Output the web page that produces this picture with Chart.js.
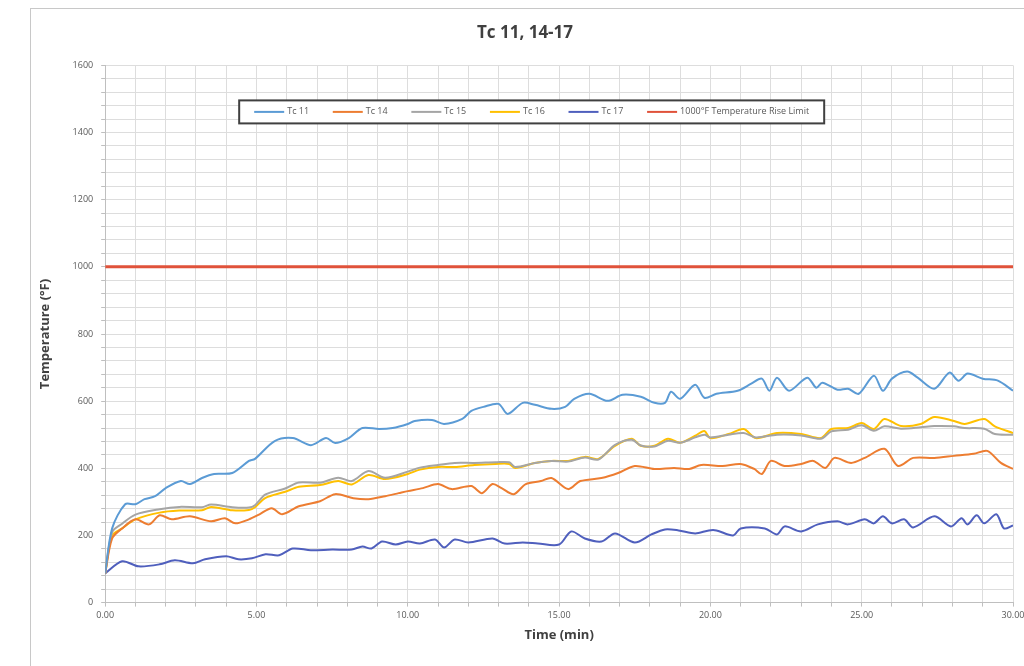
<!DOCTYPE html>
<html>
<head>
<meta charset="utf-8">
<script src="https://cdn.jsdelivr.net/npm/chart.js@4/dist/chart.umd.min.js"></script>
<style>
  html, body { margin: 0; padding: 0; background: #fff; overflow: hidden; }
  #wrap { position: absolute; left: 30px; top: 8px; width: 1000px; height: 658px;
          border-left: 1px solid #C8C8C8; border-top: 1px solid #C8C8C8; }
</style>
</head>
<body>
<div id="wrap"><canvas id="myChart" width="1000" height="658"></canvas></div>
<script>
// time (min) and temperature (°F) readings per thermocouple
var tc11Time = [0, 0.23, 0.66, 1.0, 1.3, 1.65, 2.0, 2.5, 2.8, 3.2, 3.6, 4.2, 4.75, 4.95, 5.6, 6.2, 6.8, 7.3, 7.6, 8.05,
  8.5, 9.05, 9.5, 10.0, 10.23, 10.8, 11.2, 11.8, 12.1, 12.5, 13.0, 13.3, 13.8, 14.2, 14.75, 15.2, 15.5, 16.0, 16.6, 17.1,
  17.7, 18.15, 18.5, 18.7, 19.0, 19.5, 19.8, 20.2, 20.9, 21.35, 21.7, 21.95, 22.2, 22.6, 23.2, 23.5, 23.7, 24.2, 24.55, 24.9,
  25.4, 25.7, 26.0, 26.5, 26.85, 27.4, 27.9, 28.2, 28.5, 29.0, 29.5, 30.0];
var tc11 = [87, 221, 293, 293, 308, 317, 341, 362, 353, 371, 383, 386, 422, 428, 481, 490, 469, 490, 475, 490,
  520, 517, 520, 532, 541, 544, 532, 547, 571, 583, 592, 562, 595, 589, 577, 583, 607, 622, 601, 619,
  613, 595, 595, 628, 607, 649, 610, 622, 631, 652, 667, 631, 670, 631, 670, 640, 655, 634, 637, 622,
  676, 631, 667, 688, 670, 637, 685, 661, 682, 667, 661, 631];

var tc14Time = [0, 0.23, 0.56, 1.0, 1.45, 1.8, 2.2, 2.8, 3.5, 3.96, 4.3, 4.75, 5.1, 5.5, 5.85, 6.4, 7.1, 7.6, 8.2, 8.7,
  9.25, 9.7, 10.0, 10.5, 11.0, 11.45, 12.1, 12.45, 12.8, 13.1, 13.5, 13.9, 14.4, 14.75, 15.3, 15.7, 16.4, 16.95, 17.5, 18.15,
  18.8, 19.3, 19.7, 20.4, 21.0, 21.45, 21.7, 22.0, 22.45, 23.0, 23.4, 23.8, 24.1, 24.65, 25.1, 25.75, 26.2, 26.7, 27.4, 28.05,
  28.7, 29.15, 29.6, 30.0];
var tc14 = [87, 191, 221, 248, 233, 260, 248, 257, 242, 251, 236, 248, 263, 281, 263, 287, 302, 323, 311, 308,
  317, 326, 332, 341, 353, 338, 347, 326, 353, 341, 323, 353, 362, 371, 338, 362, 371, 386, 407, 398,
  401, 398, 410, 407, 413, 398, 383, 422, 407, 413, 422, 401, 431, 416, 431, 458, 407, 431, 431, 437,
  443, 452, 416, 398];

var tc1516Time = [0, 0.23, 0.56, 1.0, 1.8, 2.45, 3.2, 3.5, 4.2, 4.75, 4.95, 5.3, 5.95, 6.4, 7.1, 7.7, 8.15, 8.7, 9.25, 10.0,
  10.4, 11.0, 11.55, 12.2, 12.9, 13.35, 13.55, 14.2, 14.75, 15.3, 15.85, 16.3, 16.85, 17.4, 17.7, 18.15, 18.6, 19.0, 19.5, 19.8,
  20.0, 20.6, 21.1, 21.5, 22.2, 23.0, 23.65, 24.0, 24.55, 25.0, 25.4, 25.75, 26.3, 26.95, 27.4, 28.05, 28.4, 29.05, 29.4, 30.0];
var tc15 = [87, 210, 235, 262, 278, 285, 284, 292, 284, 283, 290, 322, 340, 358, 357, 372, 362, 392, 372, 390,
  402, 410, 416, 416, 418, 418, 404, 416, 422, 420, 432, 426, 470, 485, 468, 465, 482, 476, 492, 500,
  492, 500, 505, 492, 500, 498, 488, 510, 515, 528, 512, 525, 518, 522, 526, 525, 520, 518, 502, 500];
var tc16 = [87, 200, 221, 248, 268, 274, 275, 285, 275, 276, 284, 312, 330, 345, 350, 362, 352, 380, 368, 383,
  396, 404, 404, 410, 413, 413, 401, 416, 422, 422, 434, 428, 467, 488, 467, 467, 488, 476, 497, 511,
  490, 502, 517, 490, 505, 502, 490, 517, 520, 535, 517, 547, 526, 532, 553, 541, 532, 547, 525, 505];

var tc17Time = [0, 0.56, 1.1, 1.8, 2.3, 2.9, 3.3, 4.0, 4.4, 4.85, 5.3, 5.75, 6.2, 6.8, 7.5, 8.15, 8.5, 8.8, 9.15, 9.6,
  10.0, 10.4, 10.9, 11.2, 11.55, 12.0, 12.8, 13.2, 13.8, 14.3, 15.0, 15.4, 15.85, 16.4, 16.85, 17.5, 18.05, 18.5, 18.95, 19.5,
  19.95, 20.2, 20.75, 21.0, 21.8, 22.2, 22.45, 23.0, 23.55, 24.2, 24.55, 25.1, 25.4, 25.7, 26.0, 26.4, 26.7, 27.4, 27.95, 28.3,
  28.5, 28.8, 29.05, 29.45, 29.7, 30.0];
var tc17 = [87, 123, 108, 114, 126, 117, 129, 138, 129, 132, 144, 141, 161, 156, 158, 158, 167, 161, 182, 173,
  182, 176, 188, 164, 188, 179, 191, 176, 179, 176, 173, 212, 191, 182, 206, 179, 203, 218, 215, 206,
  215, 215, 200, 221, 221, 203, 227, 212, 233, 242, 233, 248, 236, 257, 236, 248, 224, 257, 227, 251,
  233, 260, 236, 263, 221, 230];

var limitTime = [0, 30];
var limit = [1000, 1000];

var seriesNames = ['Tc 11', 'Tc 14', 'Tc 15', 'Tc 16', 'Tc 17', '1000\u00b0F Temperature Rise Limit'];
var seriesColors = ['#5B9BD5', '#ED7D31', '#A5A5A5', '#FFC000', '#4F5FBD', '#E0523A'];

function pts(t, v) {
  return t.map(function (x, i) { return { x: x, y: v[i] }; });
}

var seriesData = [pts(tc11Time, tc11), pts(tc14Time, tc14), pts(tc1516Time, tc15),
  pts(tc1516Time, tc16), pts(tc17Time, tc17), pts(limitTime, limit)];

var datasets = seriesData.map(function (d, i) {
  return {
    label: seriesNames[i],
    data: d,
    showLine: true,
    borderColor: seriesColors[i],
    backgroundColor: seriesColors[i],
    borderWidth: i === 5 ? 3 : 2,
    pointRadius: 0,
    tension: 0.3
  };
});

var FONT = '"Open Sans", "DejaVu Sans", sans-serif';

// legend drawn inside the plot, boxed like the spreadsheet original
var boxedLegend = {
  id: 'boxedLegend',
  afterDatasetsDraw: function (chart) {
    var ctx = chart.ctx, a = chart.chartArea;
    var left = a.left + 134, top = a.top + 35, w = 585, h = 23;
    ctx.save();
    ctx.fillStyle = '#fff';
    ctx.fillRect(left, top, w, h);
    ctx.strokeStyle = '#404040';
    ctx.lineWidth = 2;
    ctx.strokeRect(left, top, w, h);
    ctx.font = '9px ' + FONT;
    ctx.textBaseline = 'middle';
    var widths = chart.data.datasets.map(function (ds) { return 33 + ctx.measureText(ds.label).width; });
    var total = widths.reduce(function (s, x) { return s + x; }, 0);
    var gap = (w - 30 - total) / (widths.length - 1);
    var x = left + 15, cy = top + h / 2;
    chart.data.datasets.forEach(function (ds, i) {
      ctx.strokeStyle = ds.borderColor;
      ctx.lineWidth = 2;
      ctx.beginPath();
      ctx.moveTo(x, cy);
      ctx.lineTo(x + 30, cy);
      ctx.stroke();
      ctx.fillStyle = '#595959';
      ctx.fillText(ds.label, x + 33, cy);
      x += widths[i] + gap;
    });
    ctx.restore();
  }
};

var ctx = document.getElementById('myChart').getContext('2d');
var chart = new Chart(ctx, {
  type: 'scatter',
  data: { datasets: datasets },
  plugins: [boxedLegend],
  options: {
    responsive: false,
    animation: false,
    devicePixelRatio: 1,
    layout: { padding: { left: 6, right: 18, top: 14, bottom: 24 } },
    plugins: {
      legend: { display: false },
      tooltip: { enabled: false },
      title: {
        display: true,
        text: 'Tc 11, 14-17',
        color: '#404040',
        font: { family: FONT, size: 17, weight: 'bold' },
        padding: { top: 0, bottom: 22 }
      }
    },
    scales: {
      x: {
        type: 'linear',
        min: 0,
        max: 30,
        ticks: {
          stepSize: 1,
          autoSkip: false,
          maxRotation: 0,
          color: '#595959',
          font: { family: FONT, size: 9 },
          callback: function (v) { return v % 5 === 0 ? v.toFixed(2) : ''; }
        },
        grid: { color: '#DDDDDD', tickLength: 4, tickColor: '#BFBFBF' },
        border: { color: '#BFBFBF' },
        title: {
          display: true,
          text: 'Time (min)',
          color: '#404040',
          font: { family: FONT, size: 13, weight: 'bold' },
          padding: { top: 4, bottom: 0 }
        }
      },
      y: {
        min: 0,
        max: 1600,
        ticks: {
          stepSize: 40,
          autoSkip: false,
          color: '#595959',
          font: { family: FONT, size: 9 },
          padding: 8,
          callback: function (v) { return v % 200 === 0 ? String(v) : ''; }
        },
        grid: { color: '#DDDDDD', tickLength: 4, tickColor: '#BFBFBF' },
        border: { color: '#BFBFBF' },
        title: {
          display: true,
          text: 'Temperature (\u00b0F)',
          color: '#404040',
          font: { family: FONT, size: 13, weight: 'bold' },
          padding: { top: 0, bottom: 12 }
        }
      }
    }
  }
});
</script>
</body>
</html>
